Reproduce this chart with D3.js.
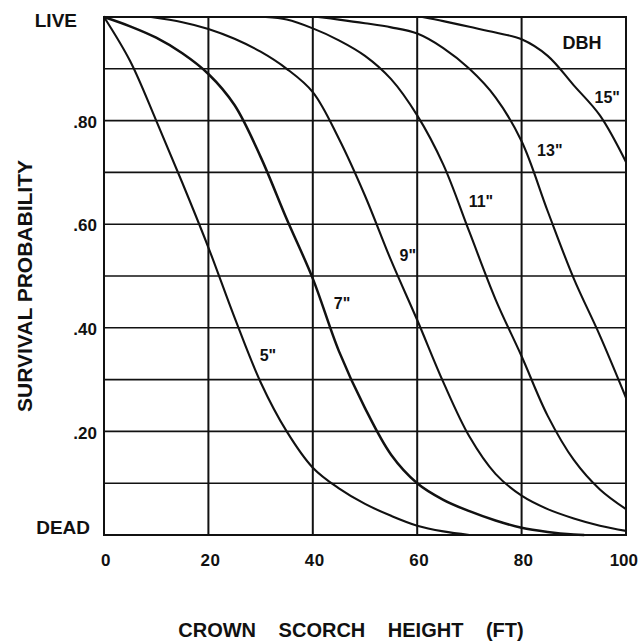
<!DOCTYPE html>
<html><head><meta charset="utf-8">
<script src="https://cdn.jsdelivr.net/npm/d3@7"></script>
<style>
body{margin:0;background:#fff}
text{font-family:"Liberation Sans",Arial,Helvetica,sans-serif;font-weight:bold;fill:#111}
</style>
</head><body>
<svg id="c" width="639" height="642"></svg>
<script>
// ---- data ----
const dbhLabels = ['5"', '7"', '9"', '11"', '13"', '15"'];
const surv5  = [[0,1],[5,0.915],[10,0.80],[15,0.68],[20,0.555],[25,0.42],[30,0.295],[35,0.20],[40,0.13],[45,0.09],[50,0.06],[55,0.037],[60,0.018],[65,0.007],[70,0]];
const surv7  = [[0,1],[5,0.982],[10,0.96],[15,0.93],[20,0.89],[25,0.83],[30,0.73],[35,0.61],[40,0.495],[45,0.355],[50,0.245],[55,0.155],[60,0.10],[65,0.068],[70,0.046],[75,0.028],[80,0.014],[85,0.006],[90,0.001],[92,0]];
const surv9  = [[9,1],[15,0.99],[20,0.977],[25,0.958],[30,0.933],[35,0.9],[40,0.855],[45,0.765],[50,0.655],[55,0.53],[60,0.415],[65,0.295],[70,0.19],[75,0.118],[80,0.076],[85,0.05],[90,0.032],[95,0.018],[100,0.008]];
const surv11 = [[31,1],[35,0.995],[40,0.978],[45,0.955],[50,0.925],[55,0.88],[60,0.81],[65,0.715],[70,0.585],[75,0.455],[80,0.345],[85,0.23],[90,0.145],[95,0.088],[100,0.05]];
const surv13 = [[41,1],[45,0.995],[50,0.988],[55,0.98],[60,0.968],[65,0.94],[70,0.9],[75,0.845],[80,0.76],[85,0.625],[90,0.495],[95,0.385],[100,0.265]];
const surv15 = [[61,1],[65,0.992],[70,0.981],[75,0.97],[80,0.957],[85,0.925],[90,0.868],[95,0.81],[100,0.72]];
const series = [surv5, surv7, surv9, surv11, surv13, surv15];
const xTickValues = [0, 20, 40, 60, 80, 100];
const xTickLabels = ["0", "20", "40", "60", "80", "100"];
const yTickValues = [0, 0.2, 0.4, 0.6, 0.8, 1];
const yTickLabels = ["DEAD", ".20", ".40", ".60", ".80", "LIVE"];
const yGridValues = [0.1, 0.2, 0.3, 0.4, 0.5, 0.6, 0.7, 0.8, 0.9];
const xTitle = "CROWN SCORCH HEIGHT (FT)";
const yTitle = "SURVIVAL PROBABILITY";
const legendTitle = "DBH";

// ---- layout ----
const svg = d3.select("#c");
const x = d3.scaleLinear().domain([0, 100]).range([104, 626]);
const y = d3.scaleLinear().domain([0, 1]).range([535, 17]);
// label anchors in data units
const labelAnchor = [[31.4,0.347],[45.6,0.448],[58.2,0.541],[72.2,0.645],[85.4,0.743],[96.4,0.846]];

// grid
svg.append("g").selectAll("line").data(yGridValues).join("line")
  .attr("x1", x(0)).attr("x2", x(100))
  .attr("y1", d => y(d)).attr("y2", d => y(d))
  .attr("stroke", "#111").attr("stroke-width", 1.6);
svg.append("g").selectAll("line").data(xTickValues.slice(1, -1)).join("line")
  .attr("x1", d => x(d)).attr("x2", d => x(d))
  .attr("y1", y(0)).attr("y2", y(1))
  .attr("stroke", "#111").attr("stroke-width", 2);
svg.append("rect")
  .attr("x", x(0)).attr("y", y(1))
  .attr("width", x(100) - x(0)).attr("height", y(0) - y(1))
  .attr("fill", "none").attr("stroke", "#111").attr("stroke-width", 2);

// curves
const line = d3.line().x(d => x(d[0])).y(d => y(Math.min(1, Math.max(0, d[1])))).curve(d3.curveCatmullRom.alpha(0.5));
svg.append("g").selectAll("path").data(series).join("path")
  .attr("d", line)
  .attr("fill", "none").attr("stroke", "#111")
  .attr("stroke-width", (d, i) => i === 1 ? 2.5 : 2.1);

// curve labels
svg.append("g").selectAll("text").data(dbhLabels).join("text")
  .attr("x", (d, i) => x(labelAnchor[i][0]))
  .attr("y", (d, i) => y(labelAnchor[i][1]))
  .attr("dy", "0.36em")
  .attr("text-anchor", "middle")
  .attr("font-size", 16)
  .text(d => d);

svg.append("text")
  .attr("x", 582).attr("y", 43).attr("dy", "0.36em")
  .attr("text-anchor", "middle").attr("font-size", 18)
  .text(legendTitle);

// x tick labels
svg.append("g").selectAll("text").data(xTickValues).join("text")
  .attr("x", (d, i) => i === xTickValues.length - 1 ? 638 : x(d) + 2)
  .attr("y", 560).attr("dy", "0.36em")
  .attr("text-anchor", (d, i) => i === xTickValues.length - 1 ? "end" : "middle")
  .attr("font-size", 17)
  .attr("letter-spacing", (d, i) => i === xTickValues.length - 1 ? 0 : 0.5)
  .text((d, i) => xTickLabels[i]);

// y tick labels
svg.append("g").selectAll("text").data(yTickValues).join("text")
  .attr("x", (d, i) => {
    const lab = yTickLabels[i];
    if (lab === "LIVE") return 77;
    if (lab === "DEAD") return 90;
    return 97;
  })
  .attr("y", (d, i) => {
    const lab = yTickLabels[i];
    if (lab === "LIVE") return y(d) + 3;
    if (lab === "DEAD") return y(d) - 8;
    return y(d) + 1;
  })
  .attr("dy", "0.36em")
  .attr("text-anchor", "end")
  .attr("font-size", (d, i) => (yTickLabels[i] === "LIVE" || yTickLabels[i] === "DEAD") ? 19 : 17)
  .text((d, i) => yTickLabels[i]);

// axis titles
svg.append("text")
  .attr("x", 351).attr("y", 630).attr("dy", "0.36em")
  .attr("text-anchor", "middle").attr("font-size", 20)
  .attr("word-spacing", 17)
  .text(xTitle);

svg.append("text")
  .attr("transform", "translate(24,286) rotate(-90)")
  .attr("dy", "0.36em")
  .attr("text-anchor", "middle").attr("font-size", 21)
  .text(yTitle);
</script>
</body></html>
